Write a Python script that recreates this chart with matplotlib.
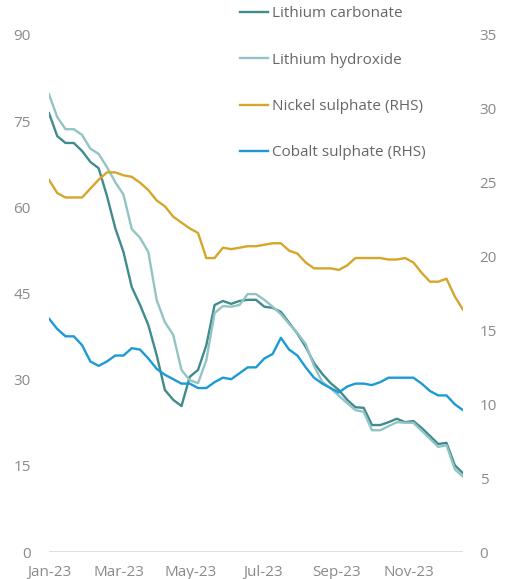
import matplotlib
matplotlib.use("Agg")
import matplotlib.pyplot as plt
import matplotlib.dates as mdates
import pandas as pd

# weekly prices, Jan-23 .. mid Dec-23
dates = pd.date_range("2023-01-01", periods=51, freq="7D")

lithium_carbonate = [
    76.4, 72.4, 71.2, 71.2, 69.8, 67.9, 66.8, 62.0, 56.4, 52.2,
    46.1, 43.0, 39.5, 34.3, 28.2, 26.5, 25.4, 30.5, 31.7, 36.0,
    43.0, 43.7, 43.2, 43.7, 43.9, 43.9, 42.7, 42.5, 41.8, 39.9,
    38.0, 35.7, 32.9, 31.0, 29.4, 28.2, 26.5, 25.2, 25.1, 22.1,
    22.1, 22.6, 23.2, 22.6, 22.8, 21.6, 20.2, 18.8, 19.0, 15.1,
    13.7,
]
lithium_hydroxide = [
    79.7, 75.7, 73.6, 73.6, 72.6, 70.2, 69.3, 67.0, 64.4, 62.2,
    56.2, 54.7, 52.2, 43.9, 40.0, 37.8, 31.7, 29.9, 29.4, 33.4,
    41.6, 42.8, 42.7, 43.0, 44.9, 44.9, 43.9, 42.7, 41.4, 39.7,
    38.1, 36.2, 32.4, 29.6, 28.5, 27.2, 25.9, 24.7, 24.4, 21.2,
    21.2, 21.9, 22.6, 22.5, 22.5, 21.1, 19.7, 18.3, 18.6, 14.4,
    13.1,
]
nickel_sulphate = [
    25.2, 24.3, 24.0, 24.0, 24.0, 24.6, 25.2, 25.7, 25.7, 25.5,
    25.4, 25.0, 24.5, 23.8, 23.4, 22.7, 22.3, 21.9, 21.6, 19.9,
    19.9, 20.6, 20.5, 20.6, 20.7, 20.7, 20.8, 20.9, 20.9, 20.4,
    20.2, 19.6, 19.2, 19.2, 19.2, 19.1, 19.4, 19.9, 19.9, 19.9,
    19.9, 19.8, 19.8, 19.9, 19.6, 18.9, 18.3, 18.3, 18.5, 17.3,
    16.4,
]
cobalt_sulphate = [
    15.8, 15.1, 14.6, 14.6, 14.0, 12.9, 12.6, 12.9, 13.3, 13.3,
    13.8, 13.7, 13.1, 12.4, 12.0, 11.7, 11.4, 11.4, 11.1, 11.1,
    11.5, 11.8, 11.7, 12.1, 12.5, 12.5, 13.1, 13.4, 14.5, 13.7,
    13.3, 12.5, 11.8, 11.4, 11.1, 10.8, 11.2, 11.4, 11.4, 11.3,
    11.5, 11.8, 11.8, 11.8, 11.8, 11.4, 10.9, 10.6, 10.6, 10.0,
    9.6,
]

left_ticks = [0, 15, 30, 45, 60, 75, 90]
right_ticks = [0, 5, 10, 15, 20, 25, 30, 35]

TEXT = "#8a8a8a"
plt.rcParams["font.family"] = ["Open Sans", "DejaVu Sans"]

fig = plt.figure(figsize=(5.10, 5.79), dpi=100)
ax = fig.add_axes([0.096, 0.0466, 0.812, 0.893])
ax2 = ax.twinx()

lw = 1.7
l1, = ax.plot(dates, lithium_carbonate, color="#3f8b8d", lw=lw, label="Lithium carbonate")
l2, = ax.plot(dates, lithium_hydroxide, color="#93c4c5", lw=lw, label="Lithium hydroxide")
l3, = ax2.plot(dates, nickel_sulphate, color="#d6a62b", lw=lw, label="Nickel sulphate (RHS)")
l4, = ax2.plot(dates, cobalt_sulphate, color="#1b9ad6", lw=lw, label="Cobalt sulphate (RHS)")

ax.set_xlim(dates[0], dates[-1])
ax.set_ylim(0, 90)
ax2.set_ylim(0, 35)
ax.set_yticks(left_ticks)
ax2.set_yticks(right_ticks)
ax.axhline(0, color="#d9d9d9", lw=1.2, zorder=0)

ax.xaxis.set_major_locator(mdates.MonthLocator(bymonth=[1, 3, 5, 7, 9, 11]))
ax.xaxis.set_major_formatter(mdates.DateFormatter("%b-%y"))

for a in (ax, ax2):
    for s in a.spines.values():
        s.set_visible(False)
    a.tick_params(length=0, colors=TEXT, labelsize=11)
ax.tick_params(axis="y", pad=13)
ax2.tick_params(axis="y", pad=12)
ax.tick_params(axis="x", pad=9)

fig.legend(
    handles=[l1, l2, l3, l4],
    loc="upper left",
    bbox_to_anchor=(238 / 510, 1 - 4 / 579),
    frameon=False,
    fontsize=11,
    labelcolor="#666666",
    handlelength=1.8,
    handletextpad=0.25,
    labelspacing=2.05,
    borderaxespad=0,
    borderpad=0.15,
)

fig.savefig("out.png", dpi=100)
